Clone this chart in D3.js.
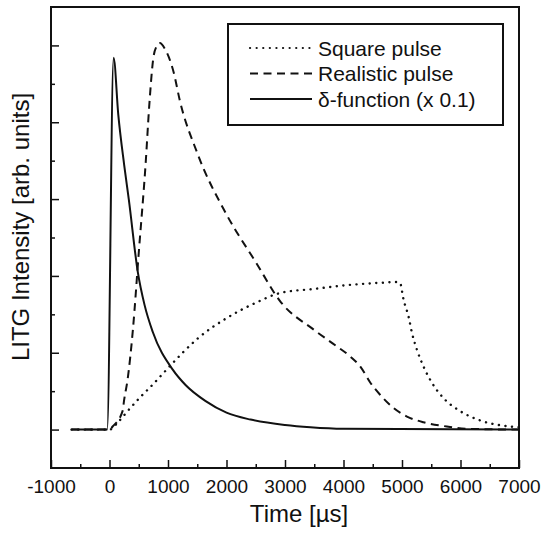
<!DOCTYPE html>
<html>
<head>
  <meta charset="utf-8">
  <title>LITG intensity</title>
  <script src="https://d3js.org/d3.v7.min.js"></script>
  <style>
    body { margin: 0; background: #fff; }
    text { font-family: "Liberation Sans", Arial, sans-serif; fill: #111; }
  </style>
</head>
<body>
<script type="text/javascript">

// ****** DATA ******

  // time in microseconds, intensity in arbitrary units
  var squareTime = [-650, 0, 150, 309, 536, 706, 1000, 1250, 1500, 2000, 2500, 2928, 3492, 4061, 4629, 4914, 4966,
                    5027, 5112, 5170, 5255, 5368, 5511, 5709, 5994, 6334, 6846, 7000];
  var squareValue = [0, 0, 0.1, 0.24, 0.43, 0.56, 0.8, 1.0, 1.18, 1.45, 1.65, 1.78, 1.83, 1.88, 1.91, 1.92, 1.91,
                     1.69, 1.47, 1.26, 1.04, 0.82, 0.61, 0.41, 0.24, 0.12, 0.04, 0.03];

  var realTime = [-650, 0, 53, 223, 251, 309, 400, 500, 621, 678, 752, 800, 860, 950, 1100, 1200, 1500, 2000, 2500,
                  2928, 3492, 3891, 4118, 4288, 4459, 4629, 4856, 5085, 5368, 5767, 6108, 7000];
  var realValue = [0, 0, 0.04, 0.24, 0.39, 0.65, 1.3, 2.3, 3.5, 4.2, 4.85, 4.98, 5.03, 4.95, 4.64, 4.29, 3.6, 2.8, 2.18,
                   1.66, 1.3, 1.08, 0.95, 0.82, 0.61, 0.45, 0.28, 0.17, 0.095, 0.04, 0.01, 0];

  var deltaTime = [-650, -40, 70, 150, 250, 331, 484, 600, 740, 1081, 1300, 1644, 2000, 2412, 3000, 3435, 4000, 7000];
  var deltaValue = [0, 0, 4.84, 4.1, 3.45, 2.99, 2.05, 1.62, 1.27, 0.78, 0.58, 0.37, 0.22, 0.13, 0.06, 0.03, 0.01, 0];

  var seriesNames = ["Square pulse", "Realistic pulse", "\u03b4-function (x 0.1)"];
  var seriesDash = ["0.1,6.5", "8,5.5", null];

  var xMajorTicks = [-1000, 0, 1000, 2000, 3000, 4000, 5000, 6000, 7000];
  var xMinorTicks = [-500, 500, 1500, 2500, 3500, 4500, 5500, 6500];
  var yMajorTicks = [0, 1, 2, 3, 4, 5];
  var yMinorTicks = [0.5, 1.5, 2.5, 3.5, 4.5];


// ****** SETUP ******

  var width = 541,
      height = 533;

  var x = d3.scaleLinear().domain([-1000, 7000]).range([51, 519]);
  var y = d3.scaleLinear().domain([-0.5, 5.5]).range([468, 7]);

  var svg = d3.select("body")
    .append("svg")
    .attr("width", width)
    .attr("height", height);

  // zip time and value arrays into point lists
  function pairs(ts, vs) {
    return ts.map(function (t, i) { return [t, vs[i]]; });
  }

  var series = [pairs(squareTime, squareValue), pairs(realTime, realValue), pairs(deltaTime, deltaValue)];


// ****** AXES ******

  var xAxis = svg.append("g")
    .attr("transform", "translate(0," + y.range()[0] + ")")
    .call(d3.axisBottom(x).tickValues(xMajorTicks).tickSizeInner(-8).tickSizeOuter(0).tickPadding(12)
      .tickFormat(function (d) { return String(d); }));
  svg.append("g")
    .attr("transform", "translate(0," + y.range()[0] + ")")
    .call(d3.axisBottom(x).tickValues(xMinorTicks).tickSizeInner(-4).tickSizeOuter(0).tickFormat(""));

  svg.append("g")
    .attr("transform", "translate(" + x.range()[0] + ",0)")
    .call(d3.axisLeft(y).tickValues(yMajorTicks).tickSizeInner(-8).tickSizeOuter(0).tickFormat(""));
  svg.append("g")
    .attr("transform", "translate(" + x.range()[0] + ",0)")
    .call(d3.axisLeft(y).tickValues(yMinorTicks).tickSizeInner(-4).tickSizeOuter(0).tickFormat(""));

  svg.selectAll(".domain").remove();
  svg.selectAll(".tick line").attr("stroke", "#111").attr("stroke-width", 1.5);
  xAxis.selectAll("text").style("font-size", "19px").attr("fill", "#111");

  // plot frame
  svg.append("rect")
    .attr("x", x.range()[0])
    .attr("y", y.range()[1])
    .attr("width", x.range()[1] - x.range()[0])
    .attr("height", y.range()[0] - y.range()[1])
    .attr("fill", "none")
    .attr("stroke", "#111")
    .attr("stroke-width", 2);

  svg.append("text")
    .attr("x", 299)
    .attr("y", 522)
    .attr("text-anchor", "middle")
    .style("font-size", "24px")
    .text("Time [\u00b5s]");

  svg.append("text")
    .attr("transform", "translate(29,227) rotate(-90)")
    .attr("text-anchor", "middle")
    .style("font-size", "24px")
    .text("LITG Intensity [arb. units]");


// ****** CURVES ******

  var line = d3.line()
    .x(function (d) { return x(d[0]); })
    .y(function (d) { return y(d[1]); })
    .curve(d3.curveMonotoneX);

  svg.selectAll(".curve")
    .data(series)
    .enter()
    .append("path")
    .attr("class", "curve")
    .attr("d", line)
    .attr("fill", "none")
    .attr("stroke", "#111")
    .attr("stroke-width", function (d, i) { return i === 0 ? 2.4 : 2; })
    .attr("stroke-linecap", function (d, i) { return i === 0 ? "round" : "butt"; })
    .attr("stroke-dasharray", function (d, i) { return seriesDash[i]; });


// ****** LEGEND ******

  var legend = svg.append("g");

  legend.append("rect")
    .attr("x", 228)
    .attr("y", 24)
    .attr("width", 275)
    .attr("height", 101)
    .attr("fill", "#fff")
    .attr("stroke", "#111")
    .attr("stroke-width", 2);

  var rows = legend.selectAll(".row")
    .data(seriesNames)
    .enter()
    .append("g")
    .attr("class", "row")
    .attr("transform", function (d, i) { return "translate(0," + (48 + i * 25.5) + ")"; });

  rows.append("line")
    .attr("x1", 250)
    .attr("x2", 312)
    .attr("stroke", "#111")
    .attr("stroke-width", function (d, i) { return i === 0 ? 2.2 : 2; })
    .attr("stroke-linecap", function (d, i) { return i === 0 ? "round" : "butt"; })
    .attr("stroke-dasharray", function (d, i) { return seriesDash[i]; });

  rows.append("text")
    .attr("x", 318)
    .attr("dy", "0.36em")
    .style("font-size", "21px")
    .text(function (d) { return d; });
</script>
</body>
</html>
